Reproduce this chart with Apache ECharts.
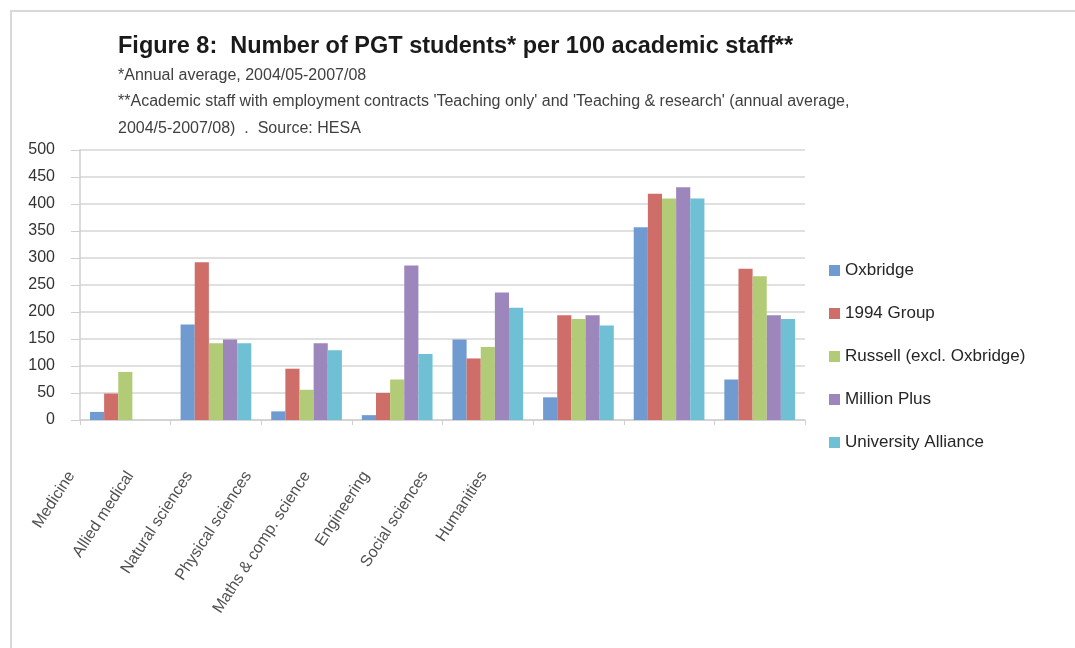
<!DOCTYPE html>
<html>
<head>
<meta charset="utf-8">
<script src="https://cdn.jsdelivr.net/npm/echarts@6/dist/echarts.min.js"></script>
<style>
  html, body { margin: 0; padding: 0; background: #fff; }
  #frame {
    position: absolute; left: 10px; top: 10px; width: 1080px; height: 650px;
    border-top: 2px solid #d9d9d9; border-left: 2px solid #d9d9d9;
  }
  #chart { position: absolute; left: 0; top: 0; width: 1075px; height: 648px; }
</style>
</head>
<body>
<div id="frame"></div>
<div id="chart"></div>
<script>
  // categories and values
  var categories = ['Medicine', 'Allied medical', 'Natural sciences', 'Physical sciences',
    'Maths & comp. science', 'Engineering', 'Social sciences', 'Humanities'];
  var oxbridge = [15, 177, 16, 9, 149, 42, 357, 75];
  var group1994 = [49, 292, 95, 50, 114, 194, 419, 280];
  var russell = [89, 142, 56, 75, 135, 187, 410, 266];
  var millionPlus = [null, 149, 142, 286, 236, 194, 431, 194];
  var uniAlliance = [null, 142, 129, 122, 208, 175, 410, 187];
  var seriesNames = ['Oxbridge', '1994 Group', 'Russell (excl. Oxbridge)', 'Million Plus', 'University Alliance'];
  var yTicks = [0, 500, 50];

  var colors = ['#6f9bd0', '#cf6d69', '#b2cb77', '#9c86bb', '#6fc0d5'];
  var font = 'Liberation Sans';

  var chart = echarts.init(document.getElementById('chart'));

  function bar(name, data){
    return {
      name: name,
      type: 'bar',
      xAxisIndex: 0,
      yAxisIndex: 0,
      barGap: '0%',
      barCategoryGap: '22%',
      data: data
    };
  }

  var option = {
    animation: false,
    color: colors,
    textStyle: { fontFamily: font },
    title: {
      text: 'Figure 8:  Number of PGT students* per 100 academic staff**',
      subtext: "*Annual average, 2004/05-2007/08\n**Academic staff with employment contracts 'Teaching only' and 'Teaching & research' (annual average,\n2004/5-2007/08)  .  Source: HESA",
      left: 113,
      top: 30,
      padding: 5,
      itemGap: 3,
      textStyle: { fontFamily: font, fontSize: 23.5, fontWeight: 'bold', color: '#1a1a1a', lineHeight: 24 },
      subtextStyle: { fontFamily: font, fontSize: 16, color: '#404040', lineHeight: 26.5 }
    },
    legend: {
      orient: 'vertical',
      left: 824,
      top: 257,
      itemWidth: 11,
      itemHeight: 11,
      itemGap: 26,
      icon: 'rect',
      textStyle: { fontFamily: font, fontSize: 17, color: '#262626' },
      data: seriesNames
    },
    grid: [
      { left: 80, right: 270, top: 150, bottom: 228 },
      // narrower grid only used to place the slanted category labels
      { left: 42, width: 471, top: 150, bottom: 228 }
    ],
    xAxis: [
      {
        type: 'category',
        gridIndex: 0,
        data: categories,
        axisLine: { lineStyle: { color: '#cfcfcf', width: 1.5 } },
        axisTick: { show: true, interval: 0, length: 5, lineStyle: { color: '#cfcfcf' } },
        axisLabel: { show: false, interval: 0 }
      },
      {
        type: 'category',
        gridIndex: 1,
        data: categories,
        axisLine: { show: false },
        axisTick: { show: false },
        axisLabel: {
          rotate: 57,
          margin: 53,
          interval: 0,
          fontFamily: font,
          fontSize: 16,
          color: '#505050'
        }
      }
    ],
    yAxis: [
      {
        type: 'value',
        gridIndex: 0,
        min: yTicks[0],
        max: yTicks[1],
        interval: yTicks[2],
        axisLine: { show: true, lineStyle: { color: '#cfcfcf', width: 1.5 } },
        axisTick: { show: true, length: 9, lineStyle: { color: '#cfcfcf' } },
        axisLabel: { fontFamily: font, fontSize: 16, color: '#333', margin: 25 },
        splitLine: { lineStyle: { color: '#d6d6d6', width: 1.5 } }
      },
      {
        type: 'value',
        gridIndex: 1,
        min: 0,
        max: 500,
        show: false
      }
    ],
    series: [
      bar(seriesNames[0], oxbridge),
      bar(seriesNames[1], group1994),
      bar(seriesNames[2], russell),
      bar(seriesNames[3], millionPlus),
      bar(seriesNames[4], uniAlliance)
    ]
  };

  chart.setOption(option);
</script>
</body>
</html>
